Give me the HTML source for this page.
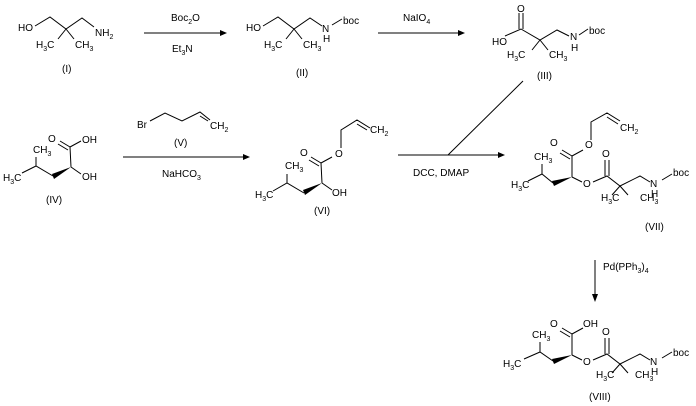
<!DOCTYPE html>
<html><head><meta charset="utf-8"><style>
html,body{margin:0;padding:0;background:#fff;}
svg{display:block;}
text{font-family:"Liberation Sans",Arial,sans-serif;font-size:10px;fill:#000;}
.s{font-size:7px;}
</style></head><body>
<svg width="696" height="406" viewBox="0 0 696 406" xmlns="http://www.w3.org/2000/svg">
<g stroke="#000" stroke-width="1" fill="none">
<!-- I -->
<path d="M35,26 L50,17 L66,29 L82,18 L94,27 M66,29 L58,39 M66,29 L74,39"/>
<!-- II -->
<path d="M263,26 L278,17 L294,29 L310,18 L322,26 M294,29 L286,39 M294,29 L302,39 M332,25 L342,19"/>
<!-- III -->
<path d="M505,36 L521,29 L540,40 L557,30 L569,36 M519,29 L519,13 M523,29 L523,13 M540,40 L532,50 M540,40 L548,50 M579,35 L588,29"/>
<path d="M523,81 L448,155"/>
<!-- arrows -->
<path d="M144,33 L220,33 M378,33 L458,33 M123,157 L243,157 M398,155 L498,155 M595,260 L595,294"/>
<!-- IV -->
<path d="M22,173 L36,166 L53,176 M36,166 L36,157 M71,167 L70,147 M70,147 L60,141 M68,150 L58,144 M70,147 L81,141 M71,167 L81,174"/>
<!-- V -->
<path d="M150,121 L165,113 L182,121 L200,112 L210,120 M200,116 L208,121"/>
<!-- VI -->
<path d="M273,191 L287,183 L304,193 M287,183 L287,174 M322,183 L321,163 M321,163 L311,157 M319,166 L309,160 M321,163 L332,157 M341,148 L341,130 L357,120 L370,128 M357,124 L367,130 M322,183 L332,190"/>
<!-- VII -->
<path d="M528,181 L542,174 L553,183 M542,174 L542,164 M572,177 L572,156 M572,156 L562,150 M570,159 L560,153 M572,156 L583,150 M591,140 L591,122 L607,113 L620,121 M607,117 L618,124 M572,177 L582,182 M593,182 L607,176 L620,186 L640,176 L650,182 M605,176 L605,160 M609,176 L609,160 M620,186 L612,195 M620,186 L628,195 M662,180 L672,174"/>
<!-- VIII -->
<path d="M524,359 L540,352 L553,361 M540,352 L540,342 M572,355 L572,334 M572,334 L562,328 M570,337 L560,331 M572,334 L583,328 M572,355 L582,360 M593,360 L607,354 L620,364 L640,354 L650,360 M605,354 L605,338 M609,354 L609,338 M620,364 L612,373 M620,364 L628,373 M662,358 L672,352"/>
</g>
<g fill="#000">
<polygon points="220,30 227,33 220,36"/>
<polygon points="458,30 465,33 458,36"/>
<polygon points="243,154 250,157 243,160"/>
<polygon points="498,152 505,155 498,158"/>
<polygon points="592,294 595,302 598,294"/>
<polygon points="71,167 52,174 54,179"/>
<polygon points="322,183 303,190 305,195"/>
<polygon points="572,177 552,181 554,186"/>
<polygon points="572,355 552,359 554,364"/>
</g>
<!-- I -->
<text x="18" y="31">HO</text>
<text x="95" y="36">NH<tspan class="s" dy="3">2</tspan></text>
<text x="36" y="48">H<tspan class="s" dy="3">3</tspan><tspan dy="-3">C</tspan></text>
<text x="75" y="48">CH<tspan class="s" dy="3">3</tspan></text>
<text x="62" y="72">(I)</text>
<text x="171" y="21">Boc<tspan class="s" dy="3">2</tspan><tspan dy="-3">O</tspan></text>
<text x="172" y="52">Et<tspan class="s" dy="3">3</tspan><tspan dy="-3">N</tspan></text>
<!-- II -->
<text x="246" y="31">HO</text>
<text x="322" y="32">N</text>
<text x="323" y="42">H</text>
<text x="343" y="24">boc</text>
<text x="264" y="48">H<tspan class="s" dy="3">3</tspan><tspan dy="-3">C</tspan></text>
<text x="303" y="48">CH<tspan class="s" dy="3">3</tspan></text>
<text x="296" y="76">(II)</text>
<text x="403" y="21">NaIO<tspan class="s" dy="3">4</tspan></text>
<!-- III -->
<text x="517" y="12">O</text>
<text x="492" y="45">HO</text>
<text x="570" y="40">N</text>
<text x="571" y="51">H</text>
<text x="589" y="34">boc</text>
<text x="507" y="58">H<tspan class="s" dy="3">3</tspan><tspan dy="-3">C</tspan></text>
<text x="549" y="58">CH<tspan class="s" dy="3">3</tspan></text>
<text x="537" y="79">(III)</text>
<!-- IV -->
<text x="48" y="142">O</text>
<text x="82" y="143">OH</text>
<text x="33" y="153">CH<tspan class="s" dy="3">3</tspan></text>
<text x="3" y="181">H<tspan class="s" dy="3">3</tspan><tspan dy="-3">C</tspan></text>
<text x="82" y="180">OH</text>
<text x="46" y="203">(IV)</text>
<!-- V -->
<text x="137" y="128">Br</text>
<text x="210" y="129">CH<tspan class="s" dy="3">2</tspan></text>
<text x="174" y="146">(V)</text>
<text x="162" y="177">NaHCO<tspan class="s" dy="3">3</tspan></text>
<!-- VI -->
<text x="300" y="156">O</text>
<text x="335" y="157">O</text>
<text x="370" y="133">CH<tspan class="s" dy="3">2</tspan></text>
<text x="285" y="169">CH<tspan class="s" dy="3">3</tspan></text>
<text x="255" y="198">H<tspan class="s" dy="3">3</tspan><tspan dy="-3">C</tspan></text>
<text x="332" y="196">OH</text>
<text x="314" y="214">(VI)</text>
<text x="413" y="176">DCC, DMAP</text>
<!-- VII -->
<text x="550" y="146">O</text>
<text x="585" y="148">O</text>
<text x="620" y="131">CH<tspan class="s" dy="3">2</tspan></text>
<text x="534" y="160">CH<tspan class="s" dy="3">3</tspan></text>
<text x="602" y="157">O</text>
<text x="511" y="188">H<tspan class="s" dy="3">3</tspan><tspan dy="-3">C</tspan></text>
<text x="583" y="187">O</text>
<text x="650" y="187">N</text>
<text x="651" y="197">H</text>
<text x="673" y="176">boc</text>
<text x="601" y="201">H<tspan class="s" dy="3">3</tspan><tspan dy="-3">C</tspan></text>
<text x="640" y="201">CH<tspan class="s" dy="3">3</tspan></text>
<text x="645" y="230">(VII)</text>
<text x="603" y="270">Pd(PPh<tspan class="s" dy="3">3</tspan><tspan dy="-3">)</tspan><tspan class="s" dy="3">4</tspan></text>
<!-- VIII -->
<text x="550" y="327">O</text>
<text x="583" y="327">OH</text>
<text x="532" y="338">CH<tspan class="s" dy="3">3</tspan></text>
<text x="602" y="335">O</text>
<text x="503" y="367">H<tspan class="s" dy="3">3</tspan><tspan dy="-3">C</tspan></text>
<text x="583" y="365">O</text>
<text x="650" y="365">N</text>
<text x="651" y="375">H</text>
<text x="673" y="356">boc</text>
<text x="596" y="378">H<tspan class="s" dy="3">3</tspan><tspan dy="-3">C</tspan></text>
<text x="635" y="378">CH<tspan class="s" dy="3">3</tspan></text>
<text x="589" y="400">(VIII)</text>
</svg>
</body></html>
